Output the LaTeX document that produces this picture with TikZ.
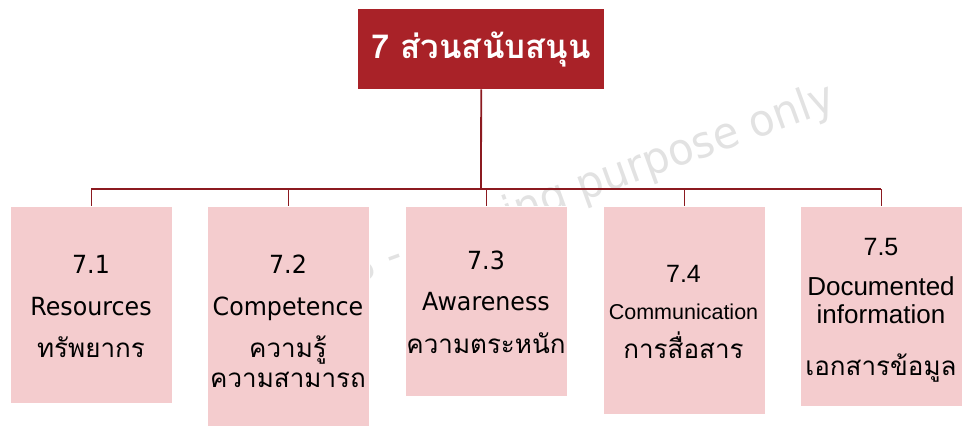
\documentclass[tikz,border=0pt]{standalone}
\usepackage{fontspec}
\newfontfamily\tah[FakeStretch=0.95]{DejaVu Sans}
\newfontfamily\ari{Liberation Sans}
\newfontfamily\thai[Script=Thai]{Loma}
\definecolor{titlered}{HTML}{A92228}
\definecolor{boxpink}{HTML}{F4CCCE}
\definecolor{connred}{HTML}{8C1A20}
\definecolor{wmgray}{HTML}{E2E2E2}
\tikzset{
  topbox/.style={fill=titlered, draw=none, minimum width=246pt, minimum height=80pt, anchor=north west, inner sep=0pt},
  subbox/.style={fill=boxpink, draw=white, line width=0.6pt, minimum width=162pt, anchor=north west, inner sep=0pt},
  conn/.style={draw=connred, line width=1.8pt},
  dropline/.style={draw=connred, line width=1.3pt},
  lbl/.style={anchor=base, inner sep=0pt, text=black},
  numT/.style={lbl, font=\tah\fontsize{25}{30}\selectfont},
  numA/.style={lbl, font=\ari\fontsize{25}{30}\selectfont},
  thaiT/.style={lbl, font=\thai\fontsize{26}{30}\selectfont},
  wm/.style={text=wmgray, font=\tah\fontsize{44}{50}\selectfont, transform shape, anchor=base east, inner sep=0pt}
}
\begin{document}
\begin{tikzpicture}[x=1pt, y=-1pt]
\useasboundingbox (0,0) rectangle (964,426);
% watermark
\begin{scope}[shift={(838,109)}, rotate=20]
  \node[wm] (wm4) at (0,0) {only};
  \node[wm] (wm3) at (-101.7,0) {purpose};
  \node[wm] (wm2) at (-284.8,0) {training};
  \node[wm] (wm1) at (-460.1,0) {SGS -};
\end{scope}
% title
\node[topbox] (top) at (358,9) {};
\node[text=white, inner sep=0pt, font=\thai\bfseries\fontsize{33}{40}\selectfont] (toptext) at (481,49) {7 ส่วนสนับสนุน};
% boxes
\node[subbox, minimum height=197pt] (b1) at (10,206) {};
\node[subbox, minimum height=220pt] (b2) at (207,206) {};
\node[subbox, minimum height=190pt] (b3) at (405,206) {};
\node[subbox, minimum height=208pt] (b4) at (603,206) {};
\node[subbox, minimum height=200pt] (b5) at (800,206) {};
% connectors
\coordinate (j) at (481,189);
\draw[conn] (top.south) -- (j);
\draw[conn] (b1.north |- j) -- (b5.north |- j);
\foreach \b in {b1,b2,b3,b4,b5}{
  \draw[dropline] (\b.north |- j) -- (\b.north);
}
% texts 7.1
\node[numT] (t1a) at (91,273) {7.1};
\node[numT] (t1b) at (91,315) {Resources};
\node[thaiT] (t1c) at (91,357) {ทรัพยากร};
% 7.2
\node[numT] (t2a) at (288,273) {7.2};
\node[numT] (t2b) at (288,315) {Competence};
\node[thaiT] (t2c) at (288,357) {ความรู้};
\node[thaiT] (t2d) at (288,387) {ความสามารถ};
% 7.3
\node[numT] (t3a) at (486,269) {7.3};
\node[numT] (t3b) at (486,310) {Awareness};
\node[thaiT] (t3c) at (486,353) {ความตระหนัก};
% 7.4
\node[numA] (t4a) at (683.5,282) {7.4};
\node[lbl, font=\ari\fontsize{21.5}{26}\selectfont] (t4b) at (683.5,319) {Communication};
\node[thaiT] (t4c) at (683.5,358) {การสื่อสาร};
% 7.5
\node[numA] (t5a) at (881,255) {7.5};
\node[lbl, font=\ari\fontsize{26}{30}\selectfont] (t5b) at (881,295) {Documented};
\node[lbl, font=\ari\fontsize{26}{30}\selectfont] (t5c) at (881,323) {information};
\node[thaiT] (t5d) at (881,375) {เอกสารข้อมูล};
\end{tikzpicture}
\end{document}
